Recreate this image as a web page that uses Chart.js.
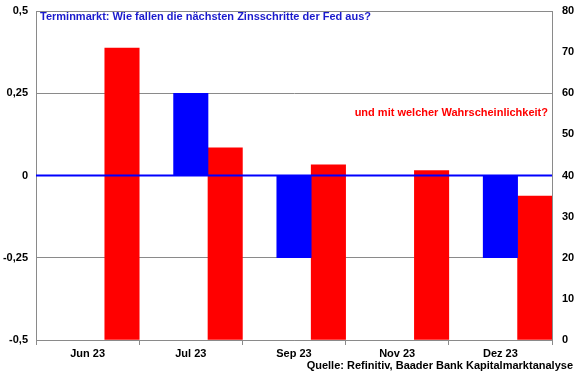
<!DOCTYPE html>
<html lang="de">
<head>
  <meta charset="UTF-8">
  <title>Terminmarkt Fed</title>
  <script src="https://cdn.jsdelivr.net/npm/chart.js"></script>
  <style>
    html, body { margin: 0; padding: 0; background: #fff; }
    #wrap { width: 580px; height: 375px; position: relative; }
  </style>
</head>
<body>
  <div id="wrap"><canvas id="fedChart"></canvas></div>

  <script>
    const months = ['Jun 23', 'Jul 23', 'Sep 23', 'Nov 23', 'Dez 23'];
    const rateSteps = [0, 0.25, -0.25, 0, -0.25];       // Zinsschritt (linke Achse)
    const probabilities = [71, 46.7, 42.6, 41.2, 35];    // Wahrscheinlichkeit in % (rechte Achse)
    const spacer = [null, null, null, null, null];

    const titleBlue = 'Terminmarkt: Wie fallen die nächsten Zinsschritte der Fed aus?';
    const titleRed = 'und mit welcher Wahrscheinlichkeit?';
    const source = 'Quelle: Refinitiv, Baader Bank Kapitalmarktanalyse';

    const gray = '#8a8a8a';
    const FONT = '"Liberation Sans", Arial, sans-serif';

    Chart.defaults.font.family = FONT;
    Chart.defaults.font.size = 11;
    Chart.defaults.font.weight = 'bold';
    Chart.defaults.color = '#000';

    const overlay = {
      id: 'overlay',
      afterDatasetsDraw(chart) {
        const { ctx, chartArea, scales } = chart;
        const y0 = scales.y.getPixelForValue(0);
        ctx.save();
        ctx.strokeStyle = '#0000ff';
        ctx.lineWidth = 2;
        ctx.beginPath();
        ctx.moveTo(chartArea.left, y0);
        ctx.lineTo(chartArea.right, y0);
        ctx.stroke();

        ctx.font = 'bold 11px ' + FONT;
        ctx.textBaseline = 'middle';
        ctx.fillStyle = '#1a1acc';
        ctx.textAlign = 'left';
        ctx.fillText(titleBlue, chartArea.left + 4, chartArea.top + 6);
        ctx.fillStyle = '#ff0000';
        ctx.textAlign = 'right';
        ctx.fillText(titleRed, chartArea.right - 4, 113);
        ctx.fillStyle = '#000';
        ctx.fillText(source, 573, 366);
        ctx.restore();
      }
    };

    function noPad(s) { s.paddingTop = 0; s.paddingBottom = 0; }

    new Chart(document.getElementById('fedChart'), {
      type: 'bar',
      data: {
        labels: months,
        datasets: [
          { label: '', data: spacer, yAxisID: 'y' },
          { label: 'Zinsschritt', data: rateSteps, yAxisID: 'y', backgroundColor: '#0000ff' },
          { label: 'Wahrscheinlichkeit', data: probabilities, yAxisID: 'y1', backgroundColor: '#ff0000' }
        ]
      },
      options: {
        responsive: true,
        maintainAspectRatio: false,
        animation: false,
        datasets: { bar: { categoryPercentage: 1, barPercentage: 1 } },
        layout: { padding: { top: 11, left: 0, right: 0, bottom: 0 } },
        plugins: { legend: { display: false }, tooltip: { enabled: false } },
        scales: {
          x: {
            grid: { offset: true, drawOnChartArea: false, color: gray, tickLength: 5 },
            border: { color: gray },
            ticks: { padding: 2 },
            afterFit(s) { s.height = 35; s.paddingLeft = 0; s.paddingRight = 0; }
          },
          y: {
            position: 'left',
            min: -0.5, max: 0.5,
            ticks: {
              stepSize: 0.25, padding: 8,
              callback: v => String(v).replace('.', ',')
            },
            grid: {
              drawTicks: false,
              color: c => c.tick.value === 0 ? 'rgba(0,0,0,0)' : gray
            },
            border: { color: gray },
            afterFit(s) { s.width = 36; noPad(s); }
          },
          y1: {
            position: 'right',
            min: 0, max: 80,
            ticks: { stepSize: 10, padding: 10 },
            grid: { drawOnChartArea: false, drawTicks: false },
            border: { color: gray },
            afterFit(s) { s.width = 28; noPad(s); }
          }
        }
      },
      plugins: [overlay]
    });
  </script>
</body>
</html>
